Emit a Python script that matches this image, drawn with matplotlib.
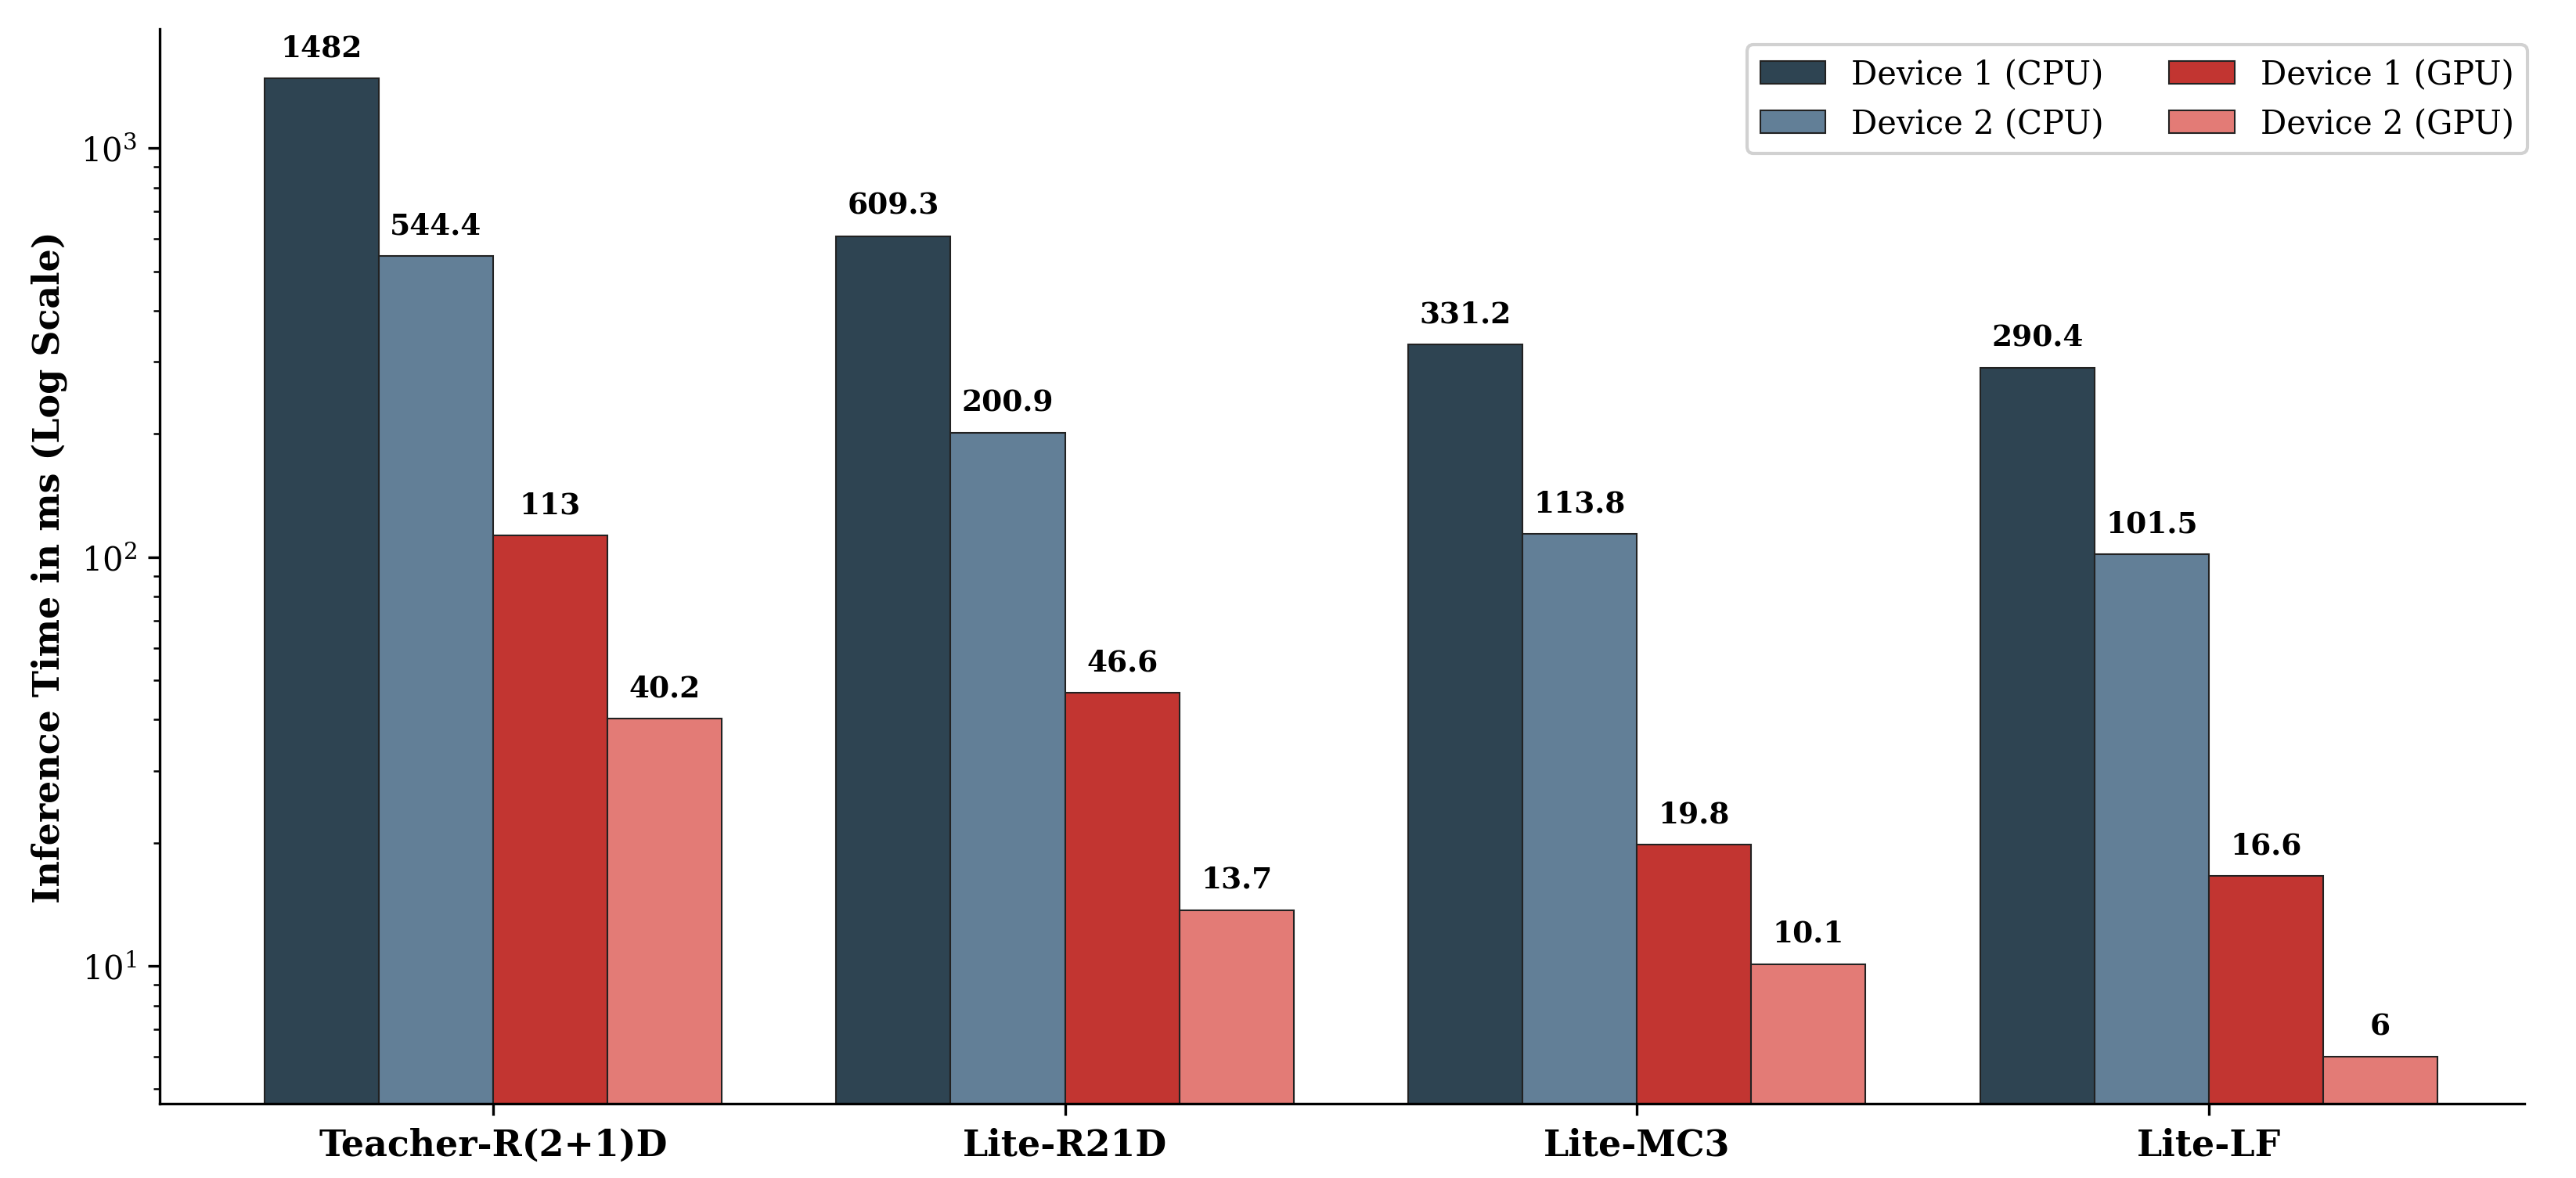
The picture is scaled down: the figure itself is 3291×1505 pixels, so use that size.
import matplotlib
matplotlib.use("Agg")
import matplotlib.pyplot as plt
import numpy as np

models = ["Teacher-R(2+1)D", "Lite-R21D", "Lite-MC3", "Lite-LF"]
dev1_cpu = [1482, 609.3, 331.2, 290.4]
dev2_cpu = [544.4, 200.9, 113.8, 101.5]
dev1_gpu = [113, 46.6, 19.8, 16.6]
dev2_gpu = [40.2, 13.7, 10.1, 6]

series_labels = ["Device 1 (CPU)", "Device 2 (CPU)", "Device 1 (GPU)", "Device 2 (GPU)"]
colors = ["#2e4452", "#627f97", "#c23531", "#e37b76"]

plt.rcParams["font.family"] = "DejaVu Serif"

fig, ax = plt.subplots(figsize=(10.97, 5.02), dpi=300)
x = np.arange(len(models))
width = 0.2
offsets = [-1.5, -0.5, 0.5, 1.5]

handles = []
for vals, lab, col, off in zip([dev1_cpu, dev2_cpu, dev1_gpu, dev2_gpu],
                               series_labels, colors, offsets):
    bars = ax.bar(x + off * width, vals, width, label=lab, color=col,
                  edgecolor="#222222", linewidth=0.5)
    handles.append(bars)
    for b, v in zip(bars, vals):
        ax.annotate(f"{v:g}", (b.get_x() + b.get_width() / 2, v),
                    xytext=(0, 5), textcoords="offset points",
                    ha="center", va="bottom", fontsize=9, fontweight="bold")

ax.set_yscale("log")
ax.set_ylim(4.6, 1960)
ax.set_xlim(-0.583, 3.552)
ax.set_xticks(x)
ax.set_xticklabels(models, fontsize=11, fontweight="bold")
ax.set_ylabel("Inference Time in ms (Log Scale)", fontsize=11, fontweight="bold")
ax.tick_params(axis="y", labelsize=10)
ax.spines["top"].set_visible(False)
ax.spines["right"].set_visible(False)

ax.legend(handles=handles, ncol=2, loc="upper right", fontsize=10,
          framealpha=0.9, bbox_to_anchor=(1.008, 1.0))

fig.subplots_adjust(left=0.062, right=0.98, top=0.975, bottom=0.063)
fig.savefig("out.png", dpi=300)
